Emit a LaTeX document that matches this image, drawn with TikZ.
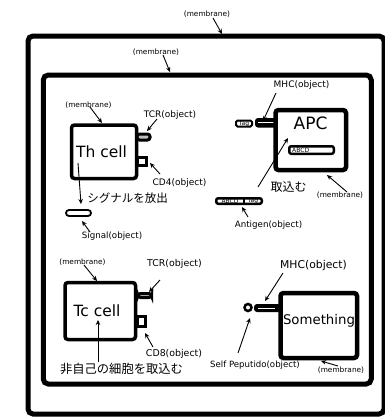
\documentclass[tikz,border=0pt]{standalone}
\usepackage{fontspec}
\setmainfont{DejaVu Sans}
\newfontfamily\jp{Noto Sans CJK JP}
\usetikzlibrary{arrows.meta}
\begin{document}
\begin{tikzpicture}[x=1pt,y=-1pt,
  membranebox/.style={draw,line width=5pt,rounded corners=5pt,inner sep=0pt},
  cellbox/.style={draw,line width=3.5pt,rounded corners=3pt,fill=white,inner sep=0pt},
  objlbl/.style={font=\fontsize{9}{10}\selectfont,inner sep=0pt},
  memlbl/.style={font=\fontsize{7.4}{8}\selectfont,inner sep=0pt},
  jplbl/.style={font=\jp\fontsize{11.5}{12}\selectfont,inner sep=0pt},
  tinybox/.style={draw,line width=2pt,rounded corners=1.5pt,fill=white,inner sep=0pt,font=\fontsize{6}{6}\selectfont},
  ptr/.style={-{Stealth[length=5pt,width=4.5pt]},line width=0.9pt},
  knob/.style={draw,line width=3pt,rounded corners=2.5pt,fill=gray!50},
  bracketknob/.style={draw,line width=3pt},
]
\useasboundingbox (0,0) rectangle (385,418);
% membranes
\node[membranebox,minimum width=356pt,minimum height=378pt] (outer) at (206,225) {};
\node[membranebox,minimum width=328pt,minimum height=309pt] (inner) at (207.25,229.5) {};
\node[memlbl] (outerlbl) at (207,14) {(membrane)};
\coordinate (outerA) at (213,18); \coordinate (outerB) at (222,34);
\draw[ptr] (outerA) -- (outerB);
\node[memlbl] (innerlbl) at (156,52) {(membrane)};
\coordinate (innerA) at (163,55); \coordinate (innerB) at (170,72);
\draw[ptr] (innerA) -- (innerB);

% ---- Th cell ----
\draw[knob] (137,134) rectangle (150,140);
\draw[bracketknob] (137,157) rectangle (146.5,165.5);
\node[cellbox,minimum width=65pt,minimum height=53.5pt] (th) at (104,151.75) {};
\node[font=\fontsize{15.5}{16}\selectfont,inner sep=0pt] (thtxt) at (101.5,152) {Th cell};
\node[memlbl] (thmem) at (88.5,105) {(membrane)};
\coordinate (thmemA) at (90,107); \coordinate (thmemB) at (102,123);
\draw[ptr] (thmemA) -- (thmemB);
\node[objlbl] (thtcr) at (170,115) {TCR(object)};
\coordinate (thtcrA) at (157,119); \coordinate (thtcrB) at (147,131);
\draw[ptr] (thtcrA) -- (thtcrB);
\node[objlbl] (cd4) at (179.5,183) {CD4(object)};
\coordinate (cd4A) at (160,174); \coordinate (cd4B) at (150,163);
\draw[ptr] (cd4A) -- (cd4B);
\coordinate (sigA) at (78,163); \coordinate (sigB) at (81,204);
\draw[ptr] (sigA) -- (sigB);
\node[jplbl] (sigtxt) at (127.5,198) {シグナルを放出};
\node[draw,line width=1.8pt,rounded corners=3pt,minimum width=25pt,minimum height=6pt,inner sep=0pt] (signal) at (78.5,213) {};
\node[objlbl,font=\fontsize{8.7}{9}\selectfont] (siglbl) at (112,236.5) {Signal(object)};
\coordinate (siglblA) at (90,232); \coordinate (siglblB) at (82,221);
\draw[ptr] (siglblA) -- (siglblB);

% ---- APC ----
\fill[rounded corners=3pt] (255,118) rectangle (277,127.5);
\draw[white,line width=1pt] (258,122.5) -- (274,122.5);
\node[tinybox,minimum width=16pt,minimum height=6pt] (apctag) at (244,123.5) {Tag};
\node[cellbox,line width=4.5pt,minimum width=70.5pt,minimum height=60pt] (apc) at (310.75,140) {};
\node[font=\fontsize{17}{18}\selectfont,inner sep=0pt] (apctxt) at (310.5,123.5) {APC};
\node[draw,line width=2.5pt,rounded corners=2pt,minimum width=44.5pt,minimum height=7.5pt,inner sep=0pt] (apcabcd) at (311.5,150) {};
\node[font=\fontsize{6}{6}\selectfont,inner sep=0pt,anchor=west] (apcabcdtxt) at (292,150) {ABCD};
\node[objlbl] (apcmhc) at (301.5,85) {MHC(object)};
\coordinate (apcmhcA) at (276,93); \coordinate (apcmhcB) at (263,121);
\draw[ptr] (apcmhcA) -- (apcmhcB);
\coordinate (takeA) at (258,187); \coordinate (takeB) at (288,138);
\draw[ptr] (takeA) -- (takeB);
\node[jplbl,font=\jp\fontsize{12}{12}\selectfont] (taketxt) at (288.5,187.5) {取込む};
\node[memlbl] (apcmem) at (340,195.5) {(membrane)};
\coordinate (apcmemA) at (347,192); \coordinate (apcmemB) at (327,175);
\draw[ptr] (apcmemA) -- (apcmemB);
% antigen
\draw[line width=2.5pt,rounded corners=2pt,fill=white] (216.25,198.25) rectangle (261.75,203.75);
\draw[line width=1.5pt] (244,198.25) -- (244,203.75);
\node[font=\fontsize{6}{6}\selectfont,inner sep=0pt] (agabcd) at (230,201) {ABCD};
\node[font=\fontsize{6}{6}\selectfont,inner sep=0pt] (agtag) at (253,201) {Tag};
\node[objlbl,font=\fontsize{8.7}{9}\selectfont] (aglbl) at (268.5,225.5) {Antigen(object)};
\coordinate (aglblA) at (248,217); \coordinate (aglblB) at (242,207);
\draw[ptr] (aglblA) -- (aglblB);

% ---- Tc cell ----
\draw[knob] (138,293.5) rectangle (151.5,297.5);
\draw[bracketknob] (137,316.5) rectangle (145.5,326.5);
\node[cellbox,minimum width=70.5pt,minimum height=57pt] (tc) at (100.25,311) {};
\node[font=\fontsize{15.5}{16}\selectfont,inner sep=0pt] (tctxt) at (97,311) {Tc cell};
\node[memlbl] (tcmem) at (82.5,262.5) {(membrane)};
\coordinate (tcmemA) at (84,265); \coordinate (tcmemB) at (97,281);
\draw[ptr] (tcmemA) -- (tcmemB);
\node[objlbl,font=\fontsize{9.4}{10}\selectfont] (tctcr) at (174.5,263.5) {TCR(object)};
\coordinate (tctcrA) at (160,280); \coordinate (tctcrB) at (149,292);
\draw[ptr] (tctcrA) -- (tctcrB);
\node[objlbl,font=\fontsize{9.4}{10}\selectfont] (cd8) at (174,353.5) {CD8(object)};
\coordinate (cd8A) at (153,347); \coordinate (cd8B) at (145,333);
\draw[ptr] (cd8A) -- (cd8B);
\coordinate (eatA) at (98,362); \coordinate (eatB) at (98,320);
\draw[ptr] (eatA) -- (eatB);
\node[jplbl,font=\jp\fontsize{12.3}{13}\selectfont] (eattxt) at (121.5,369) {非自己の細胞を取込む};

% ---- Something ----
\fill[rounded corners=3pt] (254,304) rectangle (281,312);
\draw[white,line width=1pt] (258,308) -- (275,308);
\draw[line width=2.5pt,fill=white] (248,307.5) circle (3.5pt);
\node[cellbox,line width=4.5pt,minimum width=76.5pt,minimum height=65pt] (some) at (318.75,325.5) {};
\node[font=\fontsize{13.3}{14}\selectfont,inner sep=0pt] (sometxt) at (319,321) {Something};
\node[objlbl,font=\fontsize{10.8}{11}\selectfont] (somemhc) at (313.5,266) {MHC(object)};
\coordinate (somemhcA) at (283,273); \coordinate (somemhcB) at (265,301);
\draw[ptr] (somemhcA) -- (somemhcB);
\node[objlbl,font=\fontsize{8.6}{9}\selectfont] (selflbl) at (255,365) {Self Peputido(object)};
\coordinate (selfA) at (238,353); \coordinate (selfB) at (250,318);
\draw[ptr] (selfA) -- (selfB);
\node[memlbl] (somemem) at (341,370.5) {(membrane)};
\coordinate (somememA) at (338,366); \coordinate (somememB) at (321,361);
\draw[ptr] (somememA) -- (somememB);
\end{tikzpicture}
\end{document}
